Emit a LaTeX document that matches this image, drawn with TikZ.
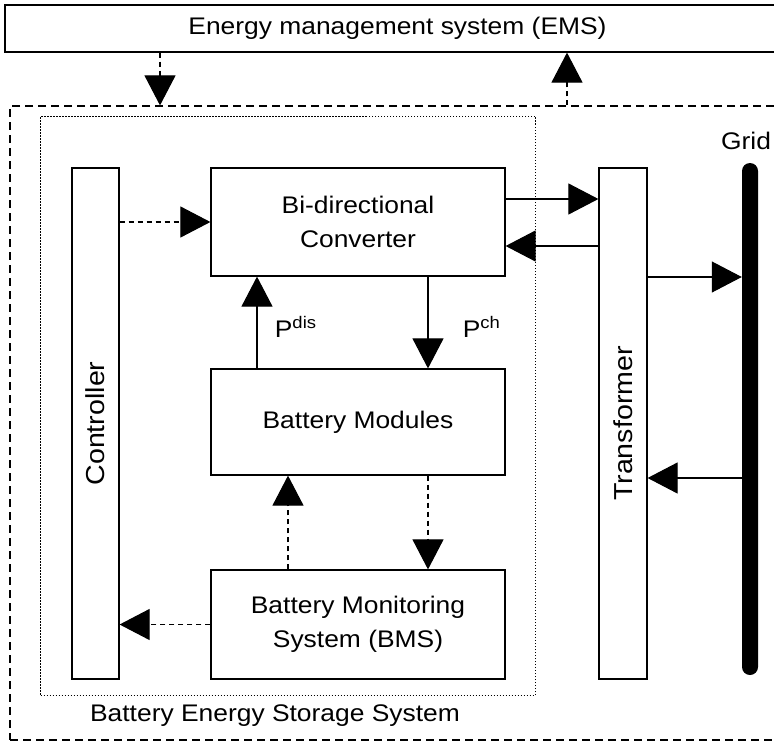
\documentclass[tikz,border=0pt]{standalone}
\usepackage{fontspec}
\setmainfont{Liberation Sans}[FakeStretch=1.1]
\usetikzlibrary{arrows.meta,positioning}
\begin{document}
\begin{tikzpicture}[x=1pt,y=-1pt,font=\fontsize{24}{34}\selectfont,line join=miter,
	>={Triangle[length=30pt,width=31pt]},
	blk/.style={draw,line width=1.2pt,inner sep=0pt},
	vtxt/.style={rotate=90,font=\fontsize{26}{30}\selectfont},
	dsh/.style={line width=1.1pt,dash pattern=on 5pt off 4pt},
	sol/.style={line width=1.1pt}]
	\useasboundingbox (0,0) rectangle (774,742);
	% boxes
	\node[blk,minimum width=785,minimum height=47] (ems) at (397.5,28.5) {Energy management system (EMS)};
	\node[blk,dash pattern=on 8pt off 5pt,minimum width=780,minimum height=634] (bess) at (400,423) {};
	\node[draw,line width=1pt,dash pattern=on 1.5pt off 1.5pt,minimum width=495,minimum height=578.5,inner sep=0pt] (inner) at (288,405.75) {};
	\node[blk,minimum width=47,minimum height=511] (ctrl) at (95.5,423.5) {};
	\node[vtxt] (ctrltxt) at (ctrl) {Controller};
	\node[blk,minimum width=294,minimum height=108,align=center] (conv) at (358,222) {Bi-directional\\Converter};
	\node[blk,minimum width=294,minimum height=106] (mod) at (358,422) {Battery Modules};
	\node[blk,minimum width=294,minimum height=109,align=center] (bms) at (358,624.5) {Battery Monitoring\\System (BMS)};
	\node[blk,minimum width=48,minimum height=511] (tr) at (623,423.5) {};
	\node[vtxt] (trtxt) at (tr) {Transformer};
	\node[fill,rounded corners=8pt,minimum width=16,minimum height=512,inner sep=0pt] (grid) at (750,419) {};
	\node[above=10pt of grid,xshift=-4pt] (gridtxt) {Grid};
	\node (besstxt) at (275,716) {Battery Energy Storage System};
	% ems links
	\draw[dsh,->] ([xshift=-237.5pt]ems.south) -- ([xshift=-237.5pt]ems.south |- bess.north);
	\draw[dsh,->] ([xshift=169.5pt]ems.south |- bess.north) -- ([xshift=169.5pt]ems.south);
	% control links
	\draw[dsh,->] (ctrl.east |- conv.west) -- (conv.west);
	\draw[dsh,->] (bms.west) -- (ctrl.east |- bms.west);
	\draw[dsh,->] ([xshift=-70pt]bms.north) -- ([xshift=-70pt]mod.south);
	\draw[dsh,->] ([xshift=70pt]mod.south) -- ([xshift=70pt]bms.north);
	% power flow
	\draw[sol,->] ([xshift=-101pt]mod.north) -- ([xshift=-101pt]conv.south) node[midway,right=14pt,yshift=-4pt]{P\textsuperscript{dis}};
	\draw[sol,->] ([xshift=70pt]conv.south) -- ([xshift=70pt]mod.north) node[midway,right=31pt,yshift=-4pt]{P\textsuperscript{ch}};
	\draw[sol,->] ([yshift=23pt]conv.east) -- ([yshift=23pt]conv.east -| tr.west);
	\draw[sol,->] ([yshift=-24pt]conv.east -| tr.west) -- ([yshift=-24pt]conv.east);
	\draw[sol,->] ([yshift=146.5pt]tr.east) -- ([yshift=146.5pt]tr.east -| grid.west);
	\draw[sol,->] ([yshift=-54.5pt]tr.east -| grid.west) -- ([yshift=-54.5pt]tr.east);
\end{tikzpicture}
\end{document}
